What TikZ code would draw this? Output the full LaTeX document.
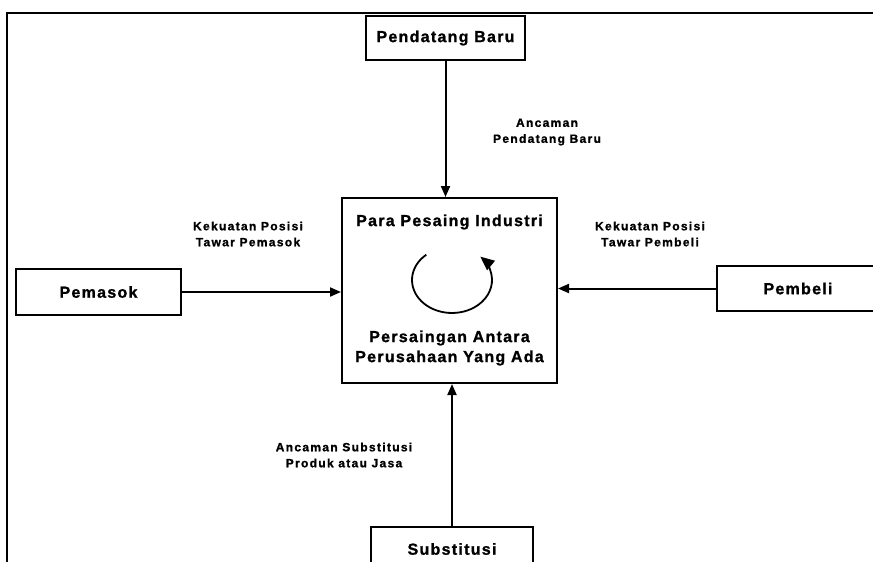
\documentclass[tikz,border=0pt]{standalone}
\usepackage{fontspec}
\setmainfont{Liberation Sans}
\newfontfamily\boxfont{Liberation Sans}[LetterSpace=8,FakeBold=1.2]
\newfontfamily\lblfont{Liberation Sans}[LetterSpace=11,FakeBold=1.2]
\usetikzlibrary{arrows.meta,positioning}
\begin{document}
\begin{tikzpicture}[x=1pt,y=-1pt,
  boxst/.style={draw,line width=2pt,rectangle,inner sep=0pt,
    font=\boxfont\bfseries\fontsize{16}{20}\selectfont,align=center},
  lblst/.style={font=\lblfont\bfseries\fontsize{12}{16}\selectfont,align=center,inner sep=0pt},
  maintxt/.style={font=\boxfont\bfseries\fontsize{16}{20}\selectfont,align=center,inner sep=0pt},
  arr/.style={line width=2pt,-{Triangle[length=11pt,width=9pt]}}]
\clip (0,0) rectangle (873,562);
\fill[white] (0,0) rectangle (873,562);
% frame
\draw[line width=1.6pt] (7,562) -- (7,13) -- (873,13);
% boxes
\node[boxst,minimum width=159pt,minimum height=44pt] (pend) at (445.5,38) {Pendatang Baru};
\node[boxst,minimum width=215pt,minimum height=185pt] (main) at (449.5,290.5) {};
\node[boxst,minimum width=165pt,minimum height=46pt] (pem) at (98.5,292) {Pemasok};
\node[boxst,minimum width=162pt,minimum height=45pt] (pemb) at (798,288.5) {Pembeli};
\node[boxst,minimum width=162pt,minimum height=44pt] (sub) at (452,549) {Substitusi};
% texts inside main box
\node[maintxt] (t1) at (449.5,222) {Para Pesaing Industri};
\node[maintxt] (t2) at (449.5,348) {Persaingan Antara\\Perusahaan Yang Ada};
% circular arrow
\coordinate (cstart) at (426.3,254.7);
\draw[line width=1.8pt,-{Triangle[length=14pt,width=12pt]}] (cstart)
  arc[start angle=130,end angle=405,x radius=40pt,y radius=33pt];
% connectors
\draw[arr] (pend.south) -- (pend.south |- main.north);
\draw[arr] (pem.east) -- (pem.east -| main.west);
\draw[arr] (pemb.west) -- (pemb.west -| main.east);
\draw[arr] (sub.north) -- (sub.north |- main.south);
% labels
\node[lblst] (l1) at (547,132) {Ancaman\\Pendatang Baru};
\node[lblst] (l2) at (248,234) {Kekuatan Posisi\\Tawar Pemasok};
\node[lblst] (l3) at (650,234) {Kekuatan Posisi\\Tawar Pembeli};
\node[lblst] (l4) at (344,455) {Ancaman Substitusi\\Produk atau Jasa};
\end{tikzpicture}
\end{document}
